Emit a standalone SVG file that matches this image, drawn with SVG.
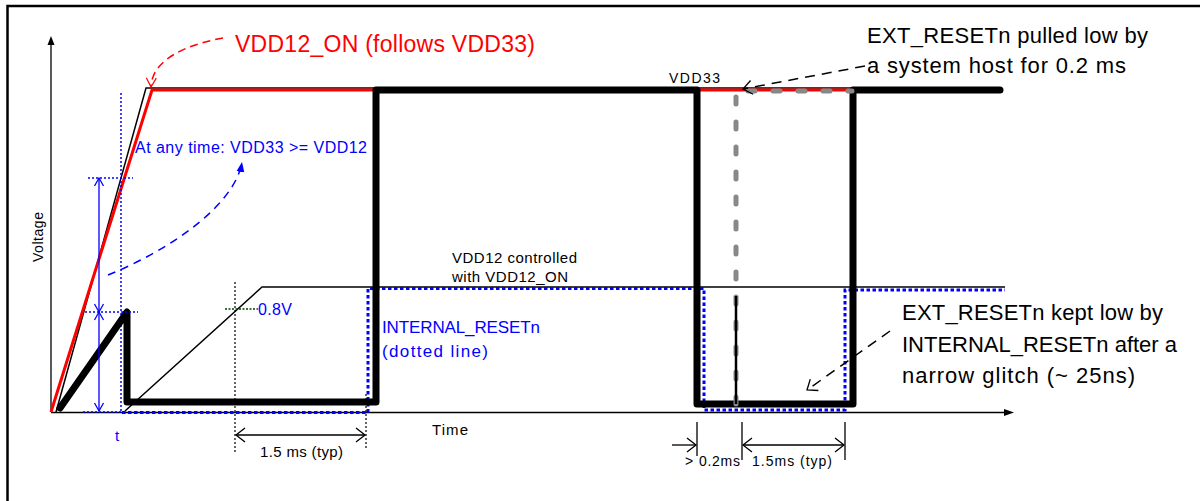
<svg xmlns="http://www.w3.org/2000/svg" width="1200" height="501" viewBox="0 0 1200 501">
<defs>
<style>
text{font-family:"Liberation Sans",Arial,sans-serif}
.blk{fill:#000}
.blue{fill:#0000ff}
.red{fill:#ff0000}
.thinblue{fill:none;stroke:#0000ff;stroke-width:1.5;stroke-dasharray:2 2}
.dotblk{fill:none;stroke:#000;stroke-width:1.2;stroke-dasharray:2 2}
.dim{fill:none;stroke:#000;stroke-width:1.3}
</style>
<marker id="ak" markerUnits="userSpaceOnUse" markerWidth="12" markerHeight="16" refX="10" refY="8" orient="auto-start-reverse"><path d="M1,1 L10,8 L1,15" fill="none" stroke="#000" stroke-width="1.3"/></marker>
<marker id="ab" markerUnits="userSpaceOnUse" markerWidth="12" markerHeight="12" refX="9" refY="6" orient="auto-start-reverse"><path d="M1,1.5 L9,6 L1,10.5" fill="none" stroke="#0000ff" stroke-width="1.3"/></marker>
<marker id="ar" markerUnits="userSpaceOnUse" markerWidth="12" markerHeight="12" refX="10" refY="6" orient="auto"><path d="M1,1 L10,6 L1,11" fill="none" stroke="#ff0000" stroke-width="1.2"/></marker>
<marker id="abf" markerUnits="userSpaceOnUse" markerWidth="12" markerHeight="10" refX="10" refY="5" orient="auto"><path d="M0,1 L10,5 L0,9 Z" fill="#0000ff"/></marker>
</defs>
<rect width="1200" height="501" fill="#fff"/>
<rect x="7.5" y="6" width="1200" height="500" fill="none" stroke="#000" stroke-width="2.5"/>

<g id="axes">
<line x1="51" y1="42" x2="51" y2="412" stroke="#000" stroke-width="1.3"/>
<polygon points="51,36 47.5,45 54.5,45" fill="#000"/>
<line x1="51" y1="412.5" x2="1006" y2="412.5" stroke="#000" stroke-width="1.3"/>
<polygon points="1014,412.5 1004,409 1004,416" fill="#000"/>
<text x="43" y="237" transform="rotate(-90 43 237)" text-anchor="middle" font-size="14" textLength="50" class="blk">Voltage</text>
<text x="432" y="435" font-size="15" textLength="36" class="blk">Time</text>
</g>

<g id="signals">
<path d="M56,412 L146,88 H1000" fill="none" stroke="#000" stroke-width="1.5"/>
<path d="M51,412 L152,90 H1000" fill="none" stroke="#ff0000" stroke-width="3"/>
<path d="M125,411 L262,287 H1005" fill="none" stroke="#000" stroke-width="1.5"/>
<path d="M83,412 H122" class="thinblue"/>
<path d="M121,93 V412" class="thinblue"/>
<path d="M122,412.5 H368 V288.5 H704 V410 H845 V290 H1005" fill="none" stroke="#0000ff" stroke-width="3" stroke-dasharray="3.5 2.5"/>
<path d="M60,408 L127,312 V402 H376 V90 H697 V404 H853 V90 H1000" fill="none" stroke="#000" stroke-width="7" stroke-linejoin="round" stroke-linecap="round"/>
<path d="M736,404 V91 H852" fill="none" stroke="#888" stroke-width="5" stroke-dasharray="7 18" stroke-linecap="round"/>
<line x1="736" y1="296" x2="736" y2="404" stroke="#000" stroke-width="2.5"/>
</g>

<g id="connectors">
<path d="M223,38 C190,44 152,58 151,87" fill="none" stroke="#ff0000" stroke-width="1.5" stroke-dasharray="8 5" marker-end="url(#ar)"/>
<path d="M108,275 C170,250 235,205 242,162" fill="none" stroke="#0000ff" stroke-width="1.5" stroke-dasharray="8 6" marker-end="url(#abf)"/>
<line x1="865" y1="66" x2="743" y2="89" stroke="#000" stroke-width="1.5" stroke-dasharray="10 7" marker-end="url(#ak)"/>
<line x1="890" y1="331" x2="807" y2="390" stroke="#000" stroke-width="1.5" stroke-dasharray="10 7" marker-end="url(#ak)"/>
</g>

<g id="t-marker">
<path d="M88,178 H133" class="thinblue"/>
<path d="M85,312 H138" class="thinblue"/>
<line x1="99" y1="178" x2="99" y2="312" stroke="#0000ff" stroke-width="1.3" marker-start="url(#ab)" marker-end="url(#ab)"/>
<line x1="99" y1="312" x2="99" y2="411" stroke="#0000ff" stroke-width="1.3" marker-start="url(#ab)" marker-end="url(#ab)"/>
<text x="115" y="441" font-size="15" class="blue">t</text>
</g>

<g id="threshold">
<path d="M225,309 H258" fill="none" stroke="#004000" stroke-width="1.5" stroke-dasharray="2 1.5"/>
<text x="258" y="315" font-size="16" textLength="34" class="blue">0.8V</text>
</g>

<g id="dim-left">
<path d="M235,282 V452" class="dotblk"/>
<path d="M366,394 V448" class="dotblk"/>
<line x1="236" y1="435" x2="365" y2="435" class="dim" marker-start="url(#ak)" marker-end="url(#ak)"/>
<text x="260" y="457" font-size="15" textLength="83" class="blk">1.5 ms (typ)</text>
</g>

<g id="dim-right">
<line x1="697" y1="422" x2="697" y2="456" class="dim"/>
<line x1="742" y1="422" x2="742" y2="460" class="dim"/>
<line x1="845" y1="422" x2="845" y2="460" class="dim"/>
<line x1="672" y1="445" x2="696" y2="445" class="dim" marker-end="url(#ak)"/>
<line x1="743" y1="445" x2="844" y2="445" class="dim" marker-start="url(#ak)" marker-end="url(#ak)"/>
<text x="685" y="466" font-size="14" class="blk">&gt;</text>
<text x="699" y="466" font-size="14" textLength="41" class="blk">0.2ms</text>
<text x="752" y="466" font-size="14" textLength="80" class="blk">1.5ms (typ)</text>
</g>

<g id="labels">
<text x="235" y="52" font-size="23" textLength="300" class="red">VDD12_ON (follows VDD33)</text>
<text x="135" y="153" font-size="16" textLength="232" class="blue">At any time: VDD33 &gt;= VDD12</text>
<text x="452" y="263" font-size="15" textLength="125" class="blk">VDD12 controlled</text>
<text x="452" y="282" font-size="15" textLength="116" class="blk">with VDD12_ON</text>
<text x="382" y="333" font-size="17" textLength="158" class="blue">INTERNAL_RESETn</text>
<text x="382" y="357" font-size="17" textLength="106" class="blue">(dotted line)</text>
<text x="669" y="83" font-size="14" textLength="51" class="blk">VDD33</text>
<text x="867" y="43" font-size="22" textLength="281" class="blk">EXT_RESETn pulled low by</text>
<text x="867" y="73" font-size="22" textLength="259" class="blk">a system host for 0.2 ms</text>
<text x="902" y="320" font-size="22" textLength="261" class="blk">EXT_RESETn kept low by</text>
<text x="902" y="352" font-size="22" textLength="275" class="blk">INTERNAL_RESETn after a</text>
<text x="902" y="383" font-size="22" textLength="233" class="blk">narrow glitch (~ 25ns)</text>
</g>
</svg>
